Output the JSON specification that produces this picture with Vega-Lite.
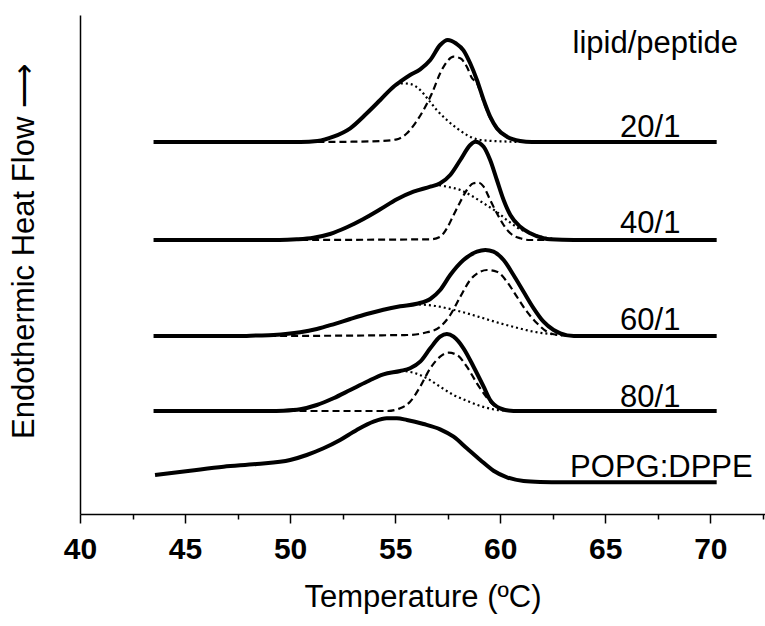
{
  "$schema": "https://vega.github.io/schema/vega-lite/v6.json",
  "width": 685,
  "height": 499,
  "autosize": {"type": "none"},
  "padding": {"left": 80, "top": 15, "right": 0, "bottom": 112},
  "background": "white",
  "config": {"view": {"stroke": null}, "font": "Liberation Sans"},
  "datasets": {
    "curves": [
      {"s":"20/1","c":"total","t":43.5,"v":381},{"s":"20/1","c":"total","t":50.5,"v":381},{"s":"20/1","c":"total","t":51.3,"v":382},{"s":"20/1","c":"total","t":52.06,"v":386.3},{"s":"20/1","c":"total","t":52.86,"v":394.7},{"s":"20/1","c":"total","t":53.65,"v":409.7},{"s":"20/1","c":"total","t":54.29,"v":423},{"s":"20/1","c":"total","t":54.92,"v":436.3},{"s":"20/1","c":"total","t":55.24,"v":441.3},{"s":"20/1","c":"total","t":55.71,"v":448},{"s":"20/1","c":"total","t":56.19,"v":453.7},{"s":"20/1","c":"total","t":56.67,"v":463},{"s":"20/1","c":"total","t":57.14,"v":478},{"s":"20/1","c":"total","t":57.5,"v":483},{"s":"20/1","c":"total","t":57.9,"v":479.5},{"s":"20/1","c":"total","t":58.25,"v":472.7},{"s":"20/1","c":"total","t":58.57,"v":459.7},{"s":"20/1","c":"total","t":58.89,"v":443},{"s":"20/1","c":"total","t":59.21,"v":423},{"s":"20/1","c":"total","t":59.52,"v":406.3},{"s":"20/1","c":"total","t":59.84,"v":394.7},{"s":"20/1","c":"total","t":60.32,"v":386.3},{"s":"20/1","c":"total","t":60.95,"v":382},{"s":"20/1","c":"total","t":61.5,"v":381},{"s":"20/1","c":"total","t":70.3,"v":381},
      {"s":"20/1","c":"dashed","t":51.3,"v":381},{"s":"20/1","c":"dashed","t":53,"v":381.3},{"s":"20/1","c":"dashed","t":54.3,"v":382},{"s":"20/1","c":"dashed","t":55.08,"v":383.7},{"s":"20/1","c":"dashed","t":55.56,"v":389.7},{"s":"20/1","c":"dashed","t":55.95,"v":399.7},{"s":"20/1","c":"dashed","t":56.35,"v":413},{"s":"20/1","c":"dashed","t":56.75,"v":429.7},{"s":"20/1","c":"dashed","t":57.14,"v":449.7},{"s":"20/1","c":"dashed","t":57.46,"v":461.3},{"s":"20/1","c":"dashed","t":57.78,"v":466.3},{"s":"20/1","c":"dashed","t":58.1,"v":464.7},{"s":"20/1","c":"dashed","t":58.41,"v":456.3},{"s":"20/1","c":"dashed","t":58.65,"v":445},{"s":"20/1","c":"dashed","t":58.89,"v":440},{"s":"20/1","c":"dashed","t":59.21,"v":421},{"s":"20/1","c":"dashed","t":59.52,"v":405},{"s":"20/1","c":"dashed","t":59.84,"v":394},{"s":"20/1","c":"dashed","t":60.32,"v":386},{"s":"20/1","c":"dashed","t":60.95,"v":382},{"s":"20/1","c":"dashed","t":61.6,"v":381},
      {"s":"20/1","c":"dotted","t":51.0,"v":381},{"s":"20/1","c":"dotted","t":52.06,"v":386},{"s":"20/1","c":"dotted","t":52.86,"v":394.5},{"s":"20/1","c":"dotted","t":53.65,"v":409.5},{"s":"20/1","c":"dotted","t":54.29,"v":422.5},{"s":"20/1","c":"dotted","t":54.92,"v":435.5},{"s":"20/1","c":"dotted","t":55.24,"v":439.7},{"s":"20/1","c":"dotted","t":55.71,"v":439},{"s":"20/1","c":"dotted","t":56.19,"v":433},{"s":"20/1","c":"dotted","t":56.59,"v":423},{"s":"20/1","c":"dotted","t":56.98,"v":413},{"s":"20/1","c":"dotted","t":57.46,"v":403},{"s":"20/1","c":"dotted","t":57.94,"v":394.7},{"s":"20/1","c":"dotted","t":58.41,"v":388},{"s":"20/1","c":"dotted","t":58.89,"v":383.7},{"s":"20/1","c":"dotted","t":59.5,"v":382.2},{"s":"20/1","c":"dotted","t":60.0,"v":381.7},{"s":"20/1","c":"dotted","t":61.0,"v":381},

      {"s":"40/1","c":"total","t":43.5,"v":283},{"s":"40/1","c":"total","t":49.5,"v":283},{"s":"40/1","c":"total","t":50.32,"v":283.7},{"s":"40/1","c":"total","t":51.11,"v":285.3},{"s":"40/1","c":"total","t":51.9,"v":289},{"s":"40/1","c":"total","t":52.7,"v":295.7},{"s":"40/1","c":"total","t":53.49,"v":304},{"s":"40/1","c":"total","t":54.29,"v":313.7},{"s":"40/1","c":"total","t":55.08,"v":323.7},{"s":"40/1","c":"total","t":55.87,"v":331.3},{"s":"40/1","c":"total","t":56.67,"v":336.3},{"s":"40/1","c":"total","t":57.14,"v":339.7},{"s":"40/1","c":"total","t":57.62,"v":348},{"s":"40/1","c":"total","t":58.1,"v":363},{"s":"40/1","c":"total","t":58.57,"v":378},{"s":"40/1","c":"total","t":58.81,"v":381.3},{"s":"40/1","c":"total","t":59.21,"v":376.3},{"s":"40/1","c":"total","t":59.52,"v":363},{"s":"40/1","c":"total","t":59.84,"v":343},{"s":"40/1","c":"total","t":60.16,"v":323},{"s":"40/1","c":"total","t":60.48,"v":308},{"s":"40/1","c":"total","t":60.95,"v":296.3},{"s":"40/1","c":"total","t":61.43,"v":289.7},{"s":"40/1","c":"total","t":62.06,"v":284.7},{"s":"40/1","c":"total","t":62.38,"v":283.7},{"s":"40/1","c":"total","t":63.5,"v":283},{"s":"40/1","c":"total","t":70.3,"v":283},
      {"s":"40/1","c":"dashed","t":50.0,"v":283},{"s":"40/1","c":"dashed","t":56.67,"v":283.7},{"s":"40/1","c":"dashed","t":57.14,"v":286.3},{"s":"40/1","c":"dashed","t":57.46,"v":294.7},{"s":"40/1","c":"dashed","t":57.78,"v":308},{"s":"40/1","c":"dashed","t":58.1,"v":321.3},{"s":"40/1","c":"dashed","t":58.41,"v":333},{"s":"40/1","c":"dashed","t":58.73,"v":339.7},{"s":"40/1","c":"dashed","t":58.97,"v":340.3},{"s":"40/1","c":"dashed","t":59.21,"v":336.3},{"s":"40/1","c":"dashed","t":59.52,"v":323},{"s":"40/1","c":"dashed","t":59.84,"v":309.7},{"s":"40/1","c":"dashed","t":60.16,"v":298},{"s":"40/1","c":"dashed","t":60.48,"v":289.7},{"s":"40/1","c":"dashed","t":60.95,"v":284.7},{"s":"40/1","c":"dashed","t":61.43,"v":283},{"s":"40/1","c":"dashed","t":63.8,"v":283},
      {"s":"40/1","c":"dotted","t":49.8,"v":283},{"s":"40/1","c":"dotted","t":50.32,"v":283.5},{"s":"40/1","c":"dotted","t":51.11,"v":285.2},{"s":"40/1","c":"dotted","t":51.9,"v":288.8},{"s":"40/1","c":"dotted","t":52.7,"v":295.5},{"s":"40/1","c":"dotted","t":53.49,"v":303.8},{"s":"40/1","c":"dotted","t":54.29,"v":313.5},{"s":"40/1","c":"dotted","t":55.08,"v":323.5},{"s":"40/1","c":"dotted","t":55.87,"v":331},{"s":"40/1","c":"dotted","t":56.4,"v":335},{"s":"40/1","c":"dotted","t":56.98,"v":338},{"s":"40/1","c":"dotted","t":57.46,"v":336.3},{"s":"40/1","c":"dotted","t":58.1,"v":333},{"s":"40/1","c":"dotted","t":58.57,"v":328},{"s":"40/1","c":"dotted","t":59.21,"v":319.7},{"s":"40/1","c":"dotted","t":59.84,"v":311},{"s":"40/1","c":"dotted","t":60.32,"v":303},{"s":"40/1","c":"dotted","t":60.79,"v":295.7},{"s":"40/1","c":"dotted","t":61.43,"v":289.7},{"s":"40/1","c":"dotted","t":62.06,"v":285.7},{"s":"40/1","c":"dotted","t":62.7,"v":283.8},{"s":"40/1","c":"dotted","t":63.5,"v":283},

      {"s":"60/1","c":"total","t":43.5,"v":187},{"s":"60/1","c":"total","t":47.5,"v":187},{"s":"60/1","c":"total","t":48.4,"v":187.5},{"s":"60/1","c":"total","t":49.21,"v":188},{"s":"60/1","c":"total","t":50.48,"v":190.7},{"s":"60/1","c":"total","t":51.27,"v":194},{"s":"60/1","c":"total","t":52.06,"v":198.7},{"s":"60/1","c":"total","t":52.86,"v":204},{"s":"60/1","c":"total","t":53.65,"v":209},{"s":"60/1","c":"total","t":54.44,"v":213.3},{"s":"60/1","c":"total","t":55.24,"v":216.7},{"s":"60/1","c":"total","t":56.03,"v":219.3},{"s":"60/1","c":"total","t":56.67,"v":224},{"s":"60/1","c":"total","t":57.14,"v":233},{"s":"60/1","c":"total","t":57.62,"v":248},{"s":"60/1","c":"total","t":58.25,"v":263},{"s":"60/1","c":"total","t":58.89,"v":271.3},{"s":"60/1","c":"total","t":59.29,"v":273},{"s":"60/1","c":"total","t":59.68,"v":271.3},{"s":"60/1","c":"total","t":60.16,"v":263},{"s":"60/1","c":"total","t":60.63,"v":248},{"s":"60/1","c":"total","t":61.11,"v":231.3},{"s":"60/1","c":"total","t":61.59,"v":214.7},{"s":"60/1","c":"total","t":62.06,"v":201.3},{"s":"60/1","c":"total","t":62.54,"v":193},{"s":"60/1","c":"total","t":62.86,"v":189.7},{"s":"60/1","c":"total","t":63.5,"v":187},{"s":"60/1","c":"total","t":70.3,"v":187},
      {"s":"60/1","c":"dashed","t":49.0,"v":187},{"s":"60/1","c":"dashed","t":55.56,"v":188},{"s":"60/1","c":"dashed","t":56.51,"v":190.7},{"s":"60/1","c":"dashed","t":57.14,"v":196.3},{"s":"60/1","c":"dashed","t":57.62,"v":208},{"s":"60/1","c":"dashed","t":58.1,"v":226.3},{"s":"60/1","c":"dashed","t":58.57,"v":243},{"s":"60/1","c":"dashed","t":59.05,"v":251.3},{"s":"60/1","c":"dashed","t":59.37,"v":253},{"s":"60/1","c":"dashed","t":59.84,"v":251.3},{"s":"60/1","c":"dashed","t":60.32,"v":241.3},{"s":"60/1","c":"dashed","t":60.79,"v":226.3},{"s":"60/1","c":"dashed","t":61.27,"v":211.3},{"s":"60/1","c":"dashed","t":61.75,"v":199.7},{"s":"60/1","c":"dashed","t":62.22,"v":191.3},{"s":"60/1","c":"dashed","t":62.54,"v":188.7},{"s":"60/1","c":"dashed","t":63.0,"v":187.5},{"s":"60/1","c":"dashed","t":63.6,"v":187},
      {"s":"60/1","c":"dotted","t":47.5,"v":187},{"s":"60/1","c":"dotted","t":48.4,"v":187.5},{"s":"60/1","c":"dotted","t":49.21,"v":188},{"s":"60/1","c":"dotted","t":50.48,"v":190.6},{"s":"60/1","c":"dotted","t":51.27,"v":193.8},{"s":"60/1","c":"dotted","t":52.06,"v":198.5},{"s":"60/1","c":"dotted","t":52.86,"v":203.8},{"s":"60/1","c":"dotted","t":53.65,"v":208.8},{"s":"60/1","c":"dotted","t":54.44,"v":213},{"s":"60/1","c":"dotted","t":55.24,"v":216.4},{"s":"60/1","c":"dotted","t":56.03,"v":218.5},{"s":"60/1","c":"dotted","t":56.83,"v":217.3},{"s":"60/1","c":"dotted","t":57.62,"v":214},{"s":"60/1","c":"dotted","t":58.41,"v":209.7},{"s":"60/1","c":"dotted","t":59.21,"v":204.7},{"s":"60/1","c":"dotted","t":60.0,"v":199.7},{"s":"60/1","c":"dotted","t":60.79,"v":195.3},{"s":"60/1","c":"dotted","t":61.59,"v":191.3},{"s":"60/1","c":"dotted","t":62.38,"v":189},{"s":"60/1","c":"dotted","t":62.86,"v":188},{"s":"60/1","c":"dotted","t":63.5,"v":187},

      {"s":"80/1","c":"total","t":43.5,"v":112},{"s":"80/1","c":"total","t":49.0,"v":112},{"s":"80/1","c":"total","t":49.68,"v":112.3},{"s":"80/1","c":"total","t":50.48,"v":113.7},{"s":"80/1","c":"total","t":51.27,"v":118},{"s":"80/1","c":"total","t":52.06,"v":124.7},{"s":"80/1","c":"total","t":52.86,"v":133},{"s":"80/1","c":"total","t":53.65,"v":141.3},{"s":"80/1","c":"total","t":54.44,"v":148.7},{"s":"80/1","c":"total","t":55.24,"v":152},{"s":"80/1","c":"total","t":55.71,"v":154.7},{"s":"80/1","c":"total","t":56.19,"v":161.3},{"s":"80/1","c":"total","t":56.67,"v":174.7},{"s":"80/1","c":"total","t":57.14,"v":186.3},{"s":"80/1","c":"total","t":57.46,"v":189},{"s":"80/1","c":"total","t":57.78,"v":186.3},{"s":"80/1","c":"total","t":58.25,"v":174.7},{"s":"80/1","c":"total","t":58.73,"v":156.3},{"s":"80/1","c":"total","t":59.21,"v":136.3},{"s":"80/1","c":"total","t":59.52,"v":123},{"s":"80/1","c":"total","t":60.0,"v":114.7},{"s":"80/1","c":"total","t":60.63,"v":112},{"s":"80/1","c":"total","t":70.3,"v":112},
      {"s":"80/1","c":"dashed","t":49.4,"v":112},{"s":"80/1","c":"dashed","t":54.6,"v":112},{"s":"80/1","c":"dashed","t":55.24,"v":114.7},{"s":"80/1","c":"dashed","t":55.71,"v":121.3},{"s":"80/1","c":"dashed","t":56.19,"v":136.3},{"s":"80/1","c":"dashed","t":56.67,"v":154.7},{"s":"80/1","c":"dashed","t":57.14,"v":166.3},{"s":"80/1","c":"dashed","t":57.54,"v":170.3},{"s":"80/1","c":"dashed","t":57.94,"v":168},{"s":"80/1","c":"dashed","t":58.41,"v":156.3},{"s":"80/1","c":"dashed","t":58.89,"v":139.7},{"s":"80/1","c":"dashed","t":59.21,"v":129.7},{"s":"80/1","c":"dashed","t":59.68,"v":118},{"s":"80/1","c":"dashed","t":60.16,"v":113},{"s":"80/1","c":"dashed","t":60.6,"v":112},
      {"s":"80/1","c":"dotted","t":49.2,"v":112},{"s":"80/1","c":"dotted","t":49.68,"v":112.3},{"s":"80/1","c":"dotted","t":50.48,"v":113.6},{"s":"80/1","c":"dotted","t":51.27,"v":117.8},{"s":"80/1","c":"dotted","t":52.06,"v":124.5},{"s":"80/1","c":"dotted","t":52.86,"v":132.8},{"s":"80/1","c":"dotted","t":53.65,"v":141},{"s":"80/1","c":"dotted","t":54.44,"v":148.3},{"s":"80/1","c":"dotted","t":55.24,"v":152},{"s":"80/1","c":"dotted","t":55.87,"v":150.3},{"s":"80/1","c":"dotted","t":56.51,"v":144.7},{"s":"80/1","c":"dotted","t":57.14,"v":136.3},{"s":"80/1","c":"dotted","t":57.78,"v":128},{"s":"80/1","c":"dotted","t":58.41,"v":122.3},{"s":"80/1","c":"dotted","t":59.05,"v":117},{"s":"80/1","c":"dotted","t":59.68,"v":113.7},{"s":"80/1","c":"dotted","t":60.32,"v":112},

      {"s":"POPG:DPPE","c":"total","t":43.57,"v":48},{"s":"POPG:DPPE","c":"total","t":45.24,"v":52.3},{"s":"POPG:DPPE","c":"total","t":46.83,"v":56.3},{"s":"POPG:DPPE","c":"total","t":48.41,"v":59},{"s":"POPG:DPPE","c":"total","t":50.0,"v":63},{"s":"POPG:DPPE","c":"total","t":50.79,"v":68},{"s":"POPG:DPPE","c":"total","t":51.59,"v":74.7},{"s":"POPG:DPPE","c":"total","t":52.38,"v":83},{"s":"POPG:DPPE","c":"total","t":53.17,"v":93},{"s":"POPG:DPPE","c":"total","t":53.97,"v":101.3},{"s":"POPG:DPPE","c":"total","t":54.6,"v":104.7},{"s":"POPG:DPPE","c":"total","t":55.08,"v":104.7},{"s":"POPG:DPPE","c":"total","t":55.56,"v":103},{"s":"POPG:DPPE","c":"total","t":56.35,"v":99},{"s":"POPG:DPPE","c":"total","t":57.14,"v":93.7},{"s":"POPG:DPPE","c":"total","t":57.78,"v":86.3},{"s":"POPG:DPPE","c":"total","t":58.41,"v":74.7},{"s":"POPG:DPPE","c":"total","t":59.05,"v":63},{"s":"POPG:DPPE","c":"total","t":59.68,"v":52.3},{"s":"POPG:DPPE","c":"total","t":60.32,"v":45.7},{"s":"POPG:DPPE","c":"total","t":61.11,"v":42},{"s":"POPG:DPPE","c":"total","t":61.9,"v":41},{"s":"POPG:DPPE","c":"total","t":63.0,"v":40.7},{"s":"POPG:DPPE","c":"total","t":70.3,"v":40.7}
    ],
    "labels": [
      {"label":"lipid/peptide","t":67.38,"v":470},
      {"label":"20/1","t":67.14,"v":386},
      {"label":"40/1","t":67.14,"v":290},
      {"label":"60/1","t":67.14,"v":193},
      {"label":"80/1","t":67.14,"v":116},
      {"label":"POPG:DPPE","t":67.67,"v":46}
    ]
  },
  "encoding": {
    "y": {
      "field": "v", "type": "quantitative",
      "scale": {"domain": [9, 508], "nice": false, "zero": false},
      "axis": {
        "orient": "left", "ticks": false, "labels": false, "grid": false,
        "domainColor": "black", "domainWidth": 1.5,
        "title": "Endothermic Heat Flow ⟶",
        "titleFont": "Liberation Sans", "titleFontSize": 31, "titleFontWeight": "normal", "titleColor": "black",
        "titleX": -56, "titleY": 236, "titleAlign": "center", "titleBaseline": "middle", "titleAngle": -90
      }
    }
  },
  "layer": [
    {
      "data": {"name": "curves"},
      "transform": [{"filter": "datum.c === 'dashed'"}],
      "mark": {"type": "line", "interpolate": "monotone", "color": "black", "strokeWidth": 2.2, "strokeDash": [7, 4]},
      "encoding": {
        "x": {
          "field": "t", "type": "quantitative", "title": "Temperature (ºC)",
          "scale": {"domain": [40, 72.6], "nice": false, "zero": false},
          "axis": {
            "orient": "bottom", "values": [40, 45, 50, 55, 60, 65, 70], "format": "d", "grid": false,
            "domainColor": "black", "domainWidth": 1.5, "tickColor": "black", "tickWidth": 1.5, "tickSize": 9,
            "labelFont": "Liberation Sans", "labelFontSize": 30, "labelFontWeight": "bold", "labelColor": "black",
            "labelPadding": 11, "labelFlush": false, "labelOverlap": false,
            "titleFont": "Liberation Sans", "titleFontSize": 31, "titleFontWeight": "normal", "titleColor": "black", "titlePadding": 18
          }
        },
        "detail": {"field": "s", "type": "nominal"}
      }
    },
    {
      "data": {"name": "curves"},
      "transform": [{"filter": "datum.c === 'dotted'"}],
      "mark": {"type": "line", "interpolate": "monotone", "color": "black", "strokeWidth": 2.2, "strokeDash": [2, 3]},
      "encoding": {
        "x": {"field": "t", "type": "quantitative", "axis": null},
        "detail": {"field": "s", "type": "nominal"}
      }
    },
    {
      "data": {"name": "curves"},
      "transform": [{"filter": "datum.c === 'total'"}],
      "mark": {"type": "line", "interpolate": "monotone", "color": "black", "strokeWidth": 4},
      "encoding": {
        "x": {"field": "t", "type": "quantitative", "axis": null},
        "detail": {"field": "s", "type": "nominal"}
      }
    },
    {
      "data": {"name": "labels"},
      "mark": {"type": "text", "font": "Liberation Sans", "fontSize": 31, "align": "center", "baseline": "alphabetic", "color": "black"},
      "encoding": {
        "x": {
          "field": "t", "type": "quantitative",
          "axis": {
            "orient": "bottom", "values": [42.5, 47.5, 52.5, 57.5, 62.5, 67.5, 72.5], "labels": false, "domain": false,
            "grid": false, "tickSize": 5, "tickWidth": 1.5, "tickColor": "black", "title": null
          }
        },
        "text": {"field": "label", "type": "nominal"}
      }
    }
  ],
  "resolve": {"axis": {"x": "independent"}}
}
